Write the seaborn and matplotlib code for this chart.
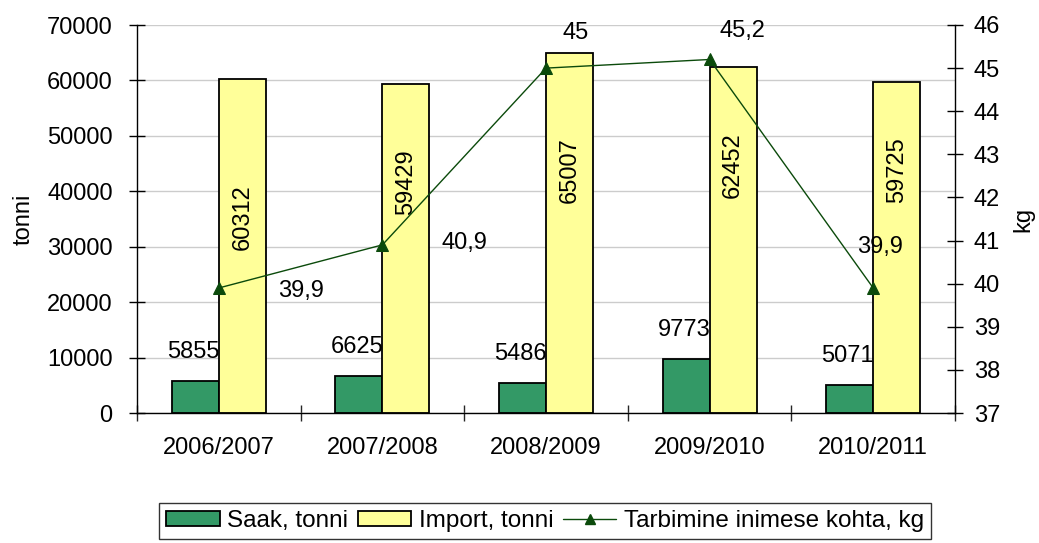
import matplotlib
matplotlib.use("Agg")
import matplotlib.pyplot as plt
from matplotlib.patches import Patch
from matplotlib.lines import Line2D
import numpy as np
import pandas as pd
import seaborn as sns

# andmed
aastad = ["2006/2007", "2007/2008", "2008/2009", "2009/2010", "2010/2011"]
saak = [5855, 6625, 5486, 9773, 5071]
imp = [60312, 59429, 65007, 62452, 59725]
tarbimine = [39.9, 40.9, 45.0, 45.2, 39.9]

seeriad = ["Saak, tonni", "Import, tonni", "Tarbimine inimese kohta, kg"]

# label placement (pixels / tonnes)
imp_label_y = [35400, 41700, 43800, 44700, 43800]
line_offsets = [(82, -3), (82, 2), (30, 35), (33, 28), (7, 41)]

roheline = "#339966"
kollane = "#ffff99"
joon = "#0b4a0b"

sns.set_theme(style="white")
plt.rcParams["font.family"] = ["Liberation Sans", "DejaVu Sans"]
plt.rcParams["text.color"] = "black"
plt.rcParams["axes.labelcolor"] = "black"
fs = 17

df = pd.DataFrame({
    "aasta": aastad * 2,
    "seeria": [seeriad[0]] * len(aastad) + [seeriad[1]] * len(aastad),
    "tonni": saak + imp,
})

fig = plt.figure(figsize=(10.39, 5.43), dpi=100)
ax = fig.add_axes([137 / 1039, 1 - 413 / 543, 818 / 1039, 388 / 543])

sns.barplot(data=df, x="aasta", y="tonni", hue="seeria", palette=[roheline, kollane],
            width=0.575, edgecolor="black", linewidth=1.3, saturation=1, legend=False, ax=ax)

ax.set_ylim(0, 70000)
ax.set_yticks(np.arange(0, 70001, 10000))
ax.yaxis.grid(True, color="#cccccc", linewidth=1)
ax.set_axisbelow(True)
ax.set_xlim(-0.5, len(aastad) - 0.5)
ax.set_xlabel("")
ax.set_ylabel("tonni", fontsize=fs, labelpad=9)
for s in ["top", "right"]:
    ax.spines[s].set_visible(False)
for s in ["left", "bottom"]:
    ax.spines[s].set_color("black")
    ax.spines[s].set_linewidth(1)
ax.tick_params(axis="y", direction="inout", length=11, width=1, pad=12, labelsize=fs,
               left=True, colors="black")
ax.set_xticks(np.arange(-0.5, len(aastad), 1), minor=True)
ax.tick_params(axis="x", which="major", length=0, pad=17.5, labelsize=fs, colors="black")
ax.tick_params(axis="x", which="minor", direction="inout", length=11, width=1, bottom=True)

# bar labels
for bar, v in zip(ax.containers[0], saak):
    ax.annotate(f"{v}", (bar.get_x() + bar.get_width() / 2, bar.get_height()),
                xytext=(-2, 29), textcoords="offset pixels",
                ha="center", va="center", fontsize=fs)
for bar, v, yy in zip(ax.containers[1], imp, imp_label_y):
    ax.text(bar.get_x() + bar.get_width() / 2, yy, f"{v}", rotation=90,
            ha="center", va="center", fontsize=fs)

# teine telg
ax2 = ax.twinx()
sns.lineplot(x=aastad, y=tarbimine, ax=ax2, color=joon, marker="^", markersize=8,
             markeredgecolor=joon, linewidth=1, sort=False)
ax2.set_ylim(37, 46)
ax2.set_yticks(np.arange(37, 47, 1))
ax2.set_xlim(-0.5, len(aastad) - 0.5)
ax2.set_ylabel("kg", fontsize=fs, labelpad=9)
for s in ["top", "left", "bottom"]:
    ax2.spines[s].set_visible(False)
ax2.spines["right"].set_color("black")
ax2.spines["right"].set_linewidth(1)
ax2.tick_params(axis="y", direction="inout", length=11, width=1, pad=8, labelsize=fs,
                right=True, colors="black")
ax2.grid(False)

for i, (v, off) in enumerate(zip(tarbimine, line_offsets)):
    ax2.annotate(f"{v:g}".replace(".", ","), (i, v), xytext=off, textcoords="offset pixels",
                 ha="center", va="center", fontsize=fs)

handles = [
    Patch(facecolor=roheline, edgecolor="black", linewidth=1.3),
    Patch(facecolor=kollane, edgecolor="black", linewidth=1.3),
    Line2D([], [], color=joon, marker="^", markersize=7, linewidth=1),
]
leg = fig.legend(handles, seeriad, loc="center", bbox_to_anchor=(545 / 1039, 1 - 521 / 543),
                 ncol=3, frameon=True, fancybox=False, edgecolor="black", fontsize=17.5,
                 handlelength=2.2, handleheight=0.6, handletextpad=0.3, columnspacing=0.4,
                 borderpad=0.3, borderaxespad=0)
leg.get_frame().set_linewidth(1)

fig.savefig("out.png", dpi=100)
